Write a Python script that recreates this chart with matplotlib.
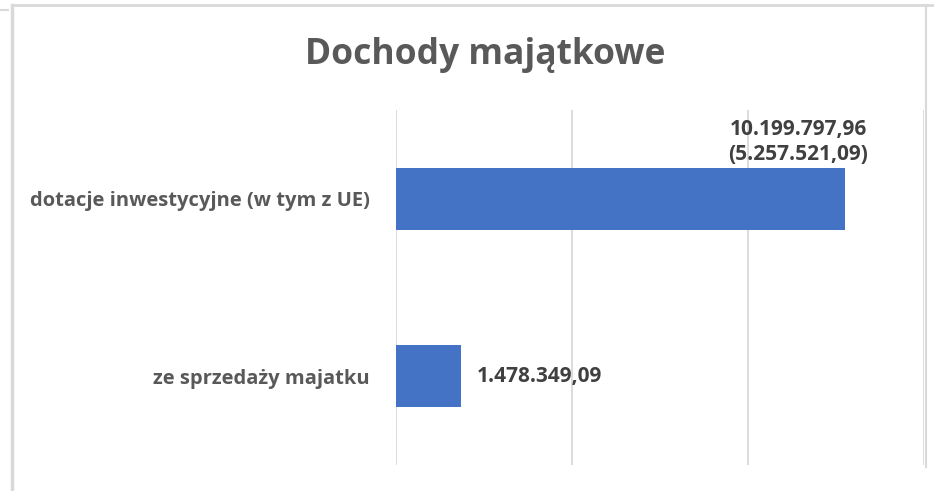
import numpy as np
import matplotlib
matplotlib.use("Agg")
import matplotlib.pyplot as plt
from matplotlib.lines import Line2D

categories = ["dotacje inwestycyjne (w tym z UE)", "ze sprzedaży majatku"]
values = [10199797.96, 1478349.09]
value_labels = ["10.199.797,96\n(5.257.521,09)", "1.478.349,09"]
grid_ticks = [0, 4e6, 8e6, 12e6]

plt.rcParams['font.family'] = ['Open Sans', 'DejaVu Sans']

W, H = 934, 491
fig = plt.figure(figsize=(W / 100, H / 100), dpi=100)
ax = fig.add_axes([396 / W, 1 - 465 / H, (924 - 396) / W, (465 - 110) / H])

y = np.arange(len(categories))
ax.barh(y, values, height=0.35, color="#4472C4", zorder=3)
ax.set_xlim(0, 12e6)
ax.set_ylim(len(categories) - 0.5, -0.5)

ax.set_xticks(grid_ticks)
ax.set_xticklabels([])
ax.tick_params(axis="x", length=0)
ax.grid(axis="x", color="#d9d9d9", linewidth=1.3, zorder=0)
for s in ax.spines.values():
    s.set_visible(False)

ax.set_yticks(y)
ax.set_yticklabels(categories, fontsize=14.5, fontweight="bold", color="#595959")
ax.tick_params(axis="y", length=0, pad=19)

# data labels
ax.text(values[0] - 1.06e6, y[0] - 0.19, value_labels[0], ha="center", va="bottom",
        fontsize=15, fontweight="bold", color="#404040", linespacing=1.25)
ax.text(values[1] + 0.35e6, y[1], value_labels[1], ha="left", va="center",
        fontsize=15, fontweight="bold", color="#404040")

fig.text(485 / W, 1 - 55 / H, "Dochody majątkowe", ha="center", va="center",
         fontsize=25.5, fontweight="bold", color="#595959")

# outer chart frame
fc = "#d9d9d9"
fig.add_artist(Line2D([12 / W, 12 / W], [0, 1 - 5 / H], color=fc, lw=2.5, transform=fig.transFigure))
fig.add_artist(Line2D([12 / W, 1], [1 - 5 / H, 1 - 5 / H], color=fc, lw=2, transform=fig.transFigure))
fig.add_artist(Line2D([926 / W, 926 / W], [1 - 467 / H, 1 - 5 / H], color=fc, lw=1.5, transform=fig.transFigure))
fig.add_artist(Line2D([0, 8 / W], [1 - 10 / H, 1 - 10 / H], color=fc, lw=1.5, transform=fig.transFigure))

fig.savefig("out.png", dpi=100)
